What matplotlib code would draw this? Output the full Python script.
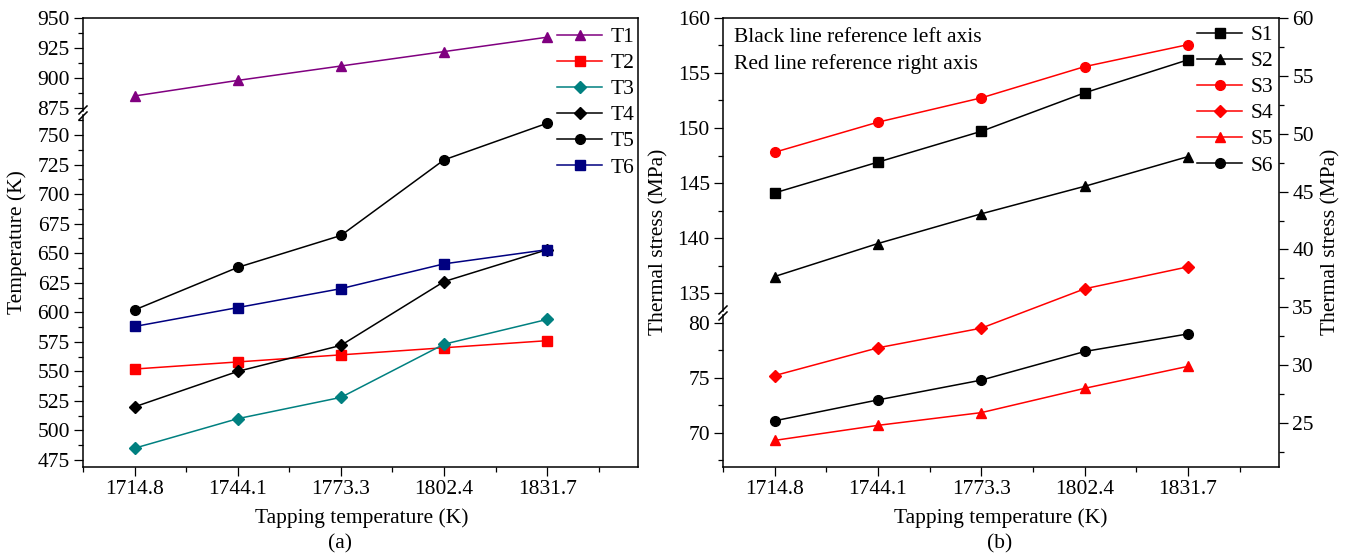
import numpy as np
import matplotlib
matplotlib.use('Agg')
import matplotlib.pyplot as plt
from matplotlib.lines import Line2D
from matplotlib.ticker import MultipleLocator

plt.rcParams['font.family'] = ['Liberation Serif', 'DejaVu Serif']
plt.rcParams['font.size'] = 15.5

# data
tap_labels = ['1714.8', '1744.1', '1773.3', '1802.4', '1831.7']

T1 = [885, 898, 910, 922, 934]
T2 = [552, 558, 564, 570, 576]
T3 = [485, 510, 528, 573, 594]
T4 = [520, 550, 572, 626, 653]
T5 = [602, 638, 665, 729, 760]
T6 = [588, 604, 620, 641, 653]

S1 = [144.1, 146.9, 149.7, 153.2, 156.2]   # left axis, upper part
S2 = [136.5, 139.5, 142.2, 144.7, 147.4]   # left axis, upper part
S6 = [71.1, 73.0, 74.8, 77.4, 79.0]        # left axis, lower part
S3 = [48.4, 51.0, 53.1, 55.8, 57.7]        # right axis
S4 = [29.1, 31.5, 33.2, 36.6, 38.5]        # right axis
S5 = [23.5, 24.8, 25.9, 28.0, 29.9]        # right axis

W, H = 1350, 557
fig = plt.figure(figsize=(W / 100, H / 100), dpi=100)
x = np.arange(len(tap_labels))
XLIM = (-0.5, 4.88)


def add_ax(left, top, right, bottom):
    ax = fig.add_axes([left / W, 1 - bottom / H, (right - left) / W, (bottom - top) / H])
    ax.patch.set_visible(False)
    ax.set_xlim(*XLIM)
    for s in ax.spines.values():
        s.set_linewidth(1.1)
    ax.tick_params(which='major', direction='out', length=6.5, width=0.9, pad=3)
    ax.tick_params(which='minor', direction='out', length=3.5, width=0.9)
    return ax


def slash(xp, yp):
    fig.add_artist(Line2D([(xp - 4) / W, (xp + 4) / W], [1 - (yp + 4) / H, 1 - (yp - 4) / H],
                          color='black', lw=1.1))


def bottom_x(ax):
    ax.set_xticks(x)
    ax.set_xticklabels(tap_labels)
    ax.xaxis.set_minor_locator(MultipleLocator(0.5))
    ax.tick_params(axis='x', which='both', top=False)


def hide_x(ax):
    ax.tick_params(axis='x', which='both', bottom=False, top=False, labelbottom=False)


mk = dict(lw=1.1, markersize=7)
leg_kw = dict(loc='upper left', frameon=False, borderaxespad=0, borderpad=0,
              handlelength=2.1, handletextpad=0.4, labelspacing=0.28)

# ---------------- panel (a) ----------------
aL, aR, aT, aB = 83, 638, 18, 467
a_up = add_ax(aL, aT, aR, 111)
a_lo = add_ax(aL, 115, aR, aB)
a_fr = add_ax(aL, aT, aR, aB)
a_fr.set_xticks([]); a_fr.set_yticks([])
for s in ['left', 'top', 'bottom']:
    a_fr.spines[s].set_visible(False)

a_up.set_ylim(950 - 93 / 1.2, 950)
a_up.set_yticks([875, 900, 925, 950])
a_up.yaxis.set_minor_locator(MultipleLocator(12.5))
a_up.spines['bottom'].set_visible(False)
a_up.spines['right'].set_visible(False)
hide_x(a_up)
a_up.tick_params(axis='y', which='both', right=False)

a_lo.set_ylim(469.1, 469.1 + 352 / 1.1818)
a_lo.set_yticks(np.arange(475, 751, 25))
a_lo.yaxis.set_minor_locator(MultipleLocator(12.5))
a_lo.spines['top'].set_visible(False)
a_lo.spines['right'].set_visible(False)
a_lo.tick_params(axis='y', which='both', right=False)
bottom_x(a_lo)

h1, = a_up.plot(x, T1, color='#800080', marker='^', label='T1', **mk)
h2, = a_lo.plot(x, T2, color='#ff0000', marker='s', label='T2', **mk)
h3, = a_lo.plot(x, T3, color='#008080', marker='D', label='T3', lw=1.1, markersize=6)
h4, = a_lo.plot(x, T4, color='black', marker='D', label='T4', lw=1.1, markersize=6)
h5, = a_lo.plot(x, T5, color='black', marker='o', label='T5', **mk)
h6, = a_lo.plot(x, T6, color='#000080', marker='s', label='T6', **mk)
for h in (h1, h2, h3, h4, h5, h6):
    h.set_clip_on(False)

slash(aL, 110)
slash(aL, 116)

fig.legend([h1, h2, h3, h4, h5, h6], ['T1', 'T2', 'T3', 'T4', 'T5', 'T6'],
           bbox_to_anchor=(557 / W, 1 - 27 / H), **leg_kw)

fig.text(17 / W, 1 - 242 / H, 'Temperature (K)', rotation=90, ha='center', va='center')
fig.text(362 / W, 1 - 518 / H, 'Tapping temperature (K)', ha='center', va='center')
fig.text(340 / W, 1 - 544 / H, '(a)', ha='center', va='center')

# ---------------- panel (b) ----------------
bL, bR, bT, bB = 723, 1279, 18, 467
b_up = add_ax(bL, bT, bR, 311)
b_lo = add_ax(bL, 315, bR, bB)
b_r = add_ax(bL, bT, bR, bB)

b_up.set_ylim(160 - 293 / 11, 160)
b_up.set_yticks(np.arange(135, 161, 5))
b_up.yaxis.set_minor_locator(MultipleLocator(2.5))
b_up.spines['bottom'].set_visible(False)
b_up.spines['right'].set_visible(False)
hide_x(b_up)
b_up.tick_params(axis='y', which='both', right=False)

b_lo.set_ylim(66.9, 66.9 + 152 / 11)
b_lo.set_yticks([70, 75, 80])
b_lo.yaxis.set_minor_locator(MultipleLocator(2.5))
b_lo.spines['top'].set_visible(False)
b_lo.spines['right'].set_visible(False)
b_lo.tick_params(axis='y', which='both', right=False)
bottom_x(b_lo)

b_r.set_ylim(21.2, 60)
b_r.set_yticks(np.arange(25, 61, 5))
b_r.yaxis.set_minor_locator(MultipleLocator(2.5))
b_r.yaxis.tick_right()
b_r.tick_params(axis='y', which='both', left=False, right=True)
hide_x(b_r)
for s in ['left', 'top', 'bottom']:
    b_r.spines[s].set_visible(False)

g1, = b_up.plot(x, S1, color='black', marker='s', label='S1', **mk)
g2, = b_up.plot(x, S2, color='black', marker='^', label='S2', **mk)
g6, = b_lo.plot(x, S6, color='black', marker='o', label='S6', **mk)
g3, = b_r.plot(x, S3, color='#ff0000', marker='o', label='S3', **mk)
g4, = b_r.plot(x, S4, color='#ff0000', marker='D', label='S4', lw=1.1, markersize=6)
g5, = b_r.plot(x, S5, color='#ff0000', marker='^', label='S5', **mk)
for g in (g1, g2, g3, g4, g5, g6):
    g.set_clip_on(False)

slash(bL, 310)
slash(bL, 316)

fig.legend([g1, g2, g3, g4, g5, g6], ['S1', 'S2', 'S3', 'S4', 'S5', 'S6'],
           bbox_to_anchor=(1197 / W, 1 - 25 / H), **leg_kw)

fig.text(734 / W, 1 - 38 / H, 'Black line reference left axis', ha='left', va='center')
fig.text(734 / W, 1 - 64 / H, 'Red line reference right axis', ha='left', va='center')

fig.text(659 / W, 1 - 242 / H, 'Thermal stress (MPa)', rotation=90, ha='center', va='center')
fig.text(1331 / W, 1 - 242 / H, 'Thermal stress (MPa)', rotation=90, ha='center', va='center')
fig.text(1001 / W, 1 - 518 / H, 'Tapping temperature (K)', ha='center', va='center')
fig.text(1000 / W, 1 - 544 / H, '(b)', ha='center', va='center')

fig.savefig('out.png', dpi=100)
